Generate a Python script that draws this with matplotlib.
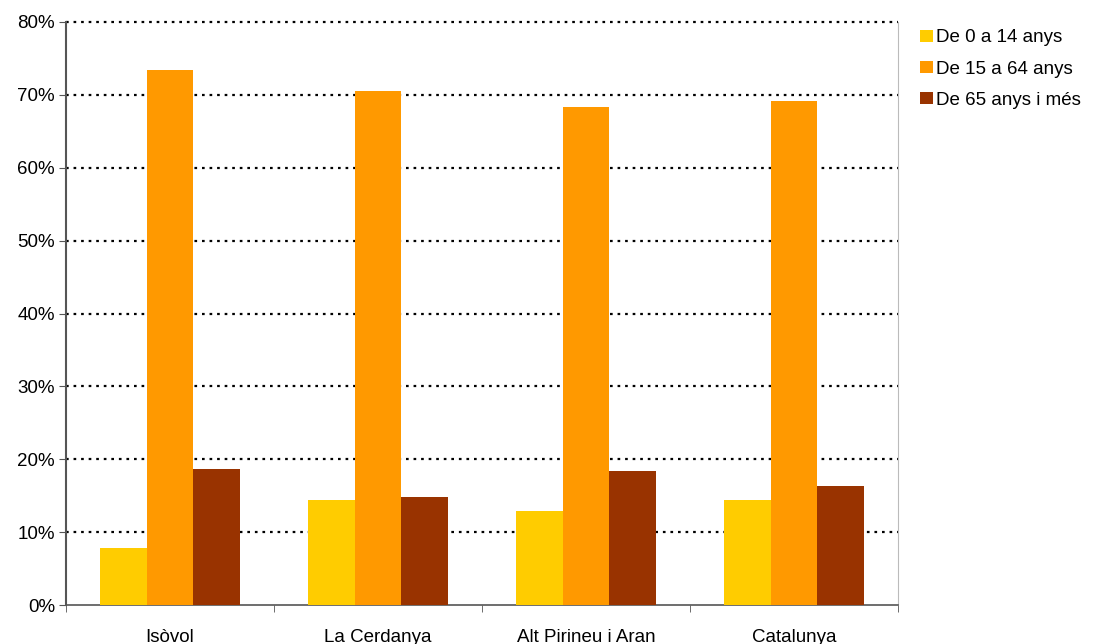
import matplotlib
matplotlib.use("Agg")
import matplotlib.pyplot as plt
import numpy as np

plt.rcParams['font.family'] = ['Liberation Sans', 'DejaVu Sans']

territoris = ["Isòvol", "La Cerdanya", "Alt Pirineu i Aran", "Catalunya"]
series = ["De 0 a 14 anys", "De 15 a 64 anys", "De 65 anys i més"]
de0a14 = [7.8, 14.4, 12.9, 14.4]
de15a64 = [73.4, 70.6, 68.4, 69.1]
de65 = [18.7, 14.8, 18.4, 16.3]
colors = ["#FFCC00", "#FF9900", "#993300"]

fig = plt.figure(figsize=(10.94, 6.44), dpi=100)
ax = fig.add_axes([66 / 1094, 39 / 644, 832 / 1094, 583 / 644])

x = np.arange(len(territoris))
w = 0.225
for i, (vals, name) in enumerate(zip([de0a14, de15a64, de65], series)):
    ax.bar(x + (i - 1) * w, vals, w, color=colors[i], label=name, zorder=3)

fs = 13.5
ax.set_xlim(-0.5, len(territoris) - 0.5)
ax.set_ylim(0, 80)
ax.set_yticks(np.arange(0, 81, 10))
ax.set_yticklabels([f"{v}%" for v in range(0, 81, 10)], fontsize=fs)
for v in range(10, 81, 10):
    ax.axhline(v, color="black", lw=1.6, ls=(0, (1.2, 2.2)), zorder=2, clip_on=False)

ax.set_xticks(x)
ax.set_xticklabels(territoris, fontsize=fs)
ax.tick_params(axis="x", which="major", length=0, pad=17)
ax.set_xticks(np.arange(-0.5, len(territoris), 1), minor=True)
ax.tick_params(axis="x", which="minor", length=5, color="#555555")
ax.tick_params(axis="y", length=5, color="#555555", pad=3)

ax.spines["left"].set_color("#555555")
ax.spines["bottom"].set_color("#555555")
ax.spines["left"].set_linewidth(1.5)
ax.spines["bottom"].set_linewidth(1.2)
ax.spines["right"].set_color("#bbbbbb")
ax.spines["top"].set_visible(False)

leg = ax.legend(loc="upper left", bbox_to_anchor=(1.018, 1.0), frameon=False,
                fontsize=fs, handlelength=0.65, handleheight=0.65,
                handletextpad=0.2, labelspacing=0.75, borderaxespad=0)

fig.savefig("out.png", dpi=100)
